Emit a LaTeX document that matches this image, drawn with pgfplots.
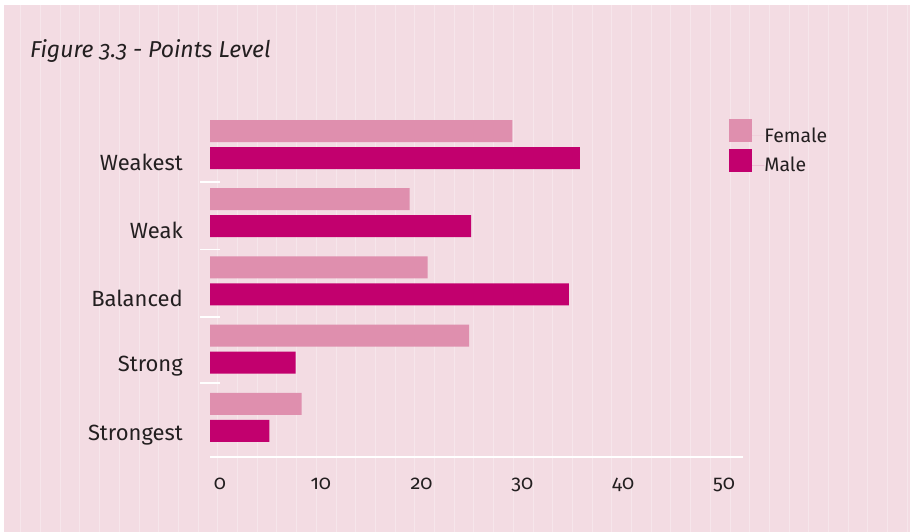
\documentclass[border=0pt]{standalone}
\usepackage{pgfplots}
\pgfplotsset{compat=1.18}
\usepackage{fontspec}
\setmainfont{Fira Sans}[Numbers=OldStyle]
\definecolor{bgpink}{RGB}{243,220,227}
\definecolor{fem}{RGB}{223,143,174}
\definecolor{mal}{RGB}{194,0,110}
\definecolor{txt}{RGB}{35,31,32}
\begin{document}
\begin{tikzpicture}[x=1pt,y=1pt]
\useasboundingbox (0,0) rectangle (910,532);
\fill[white] (0,0) rectangle (910,532);
\fill[bgpink] (4,0) rectangle (910,527);
\foreach \i in {0,...,45} {\draw[white,opacity=0.3,line width=0.8pt] ({20.7+19.7*\i},0) -- ({20.7+19.7*\i},527);}
\node[anchor=base west,inner sep=0pt,font=\fontsize{23}{26}\selectfont\itshape,text=txt] at (30,474) {Figure 3.3 - Points Level};
\begin{axis}[
  at={(210pt,75pt)}, anchor=south west,
  scale only axis, width=533pt, height=347pt,
  xmin=0, xmax=52.88, ymin=-0.582, ymax=4.506,
  xbar, bar width=22pt,
  axis x line*=bottom, axis y line*=left,
  x axis line style={white,line width=1.3pt,-},
  y axis line style={draw=none},
  xtick={0,10,20,30,40,50},
  xtick style={draw=none},
  /pgf/number format/assume math mode=true,
  xticklabel style={anchor=north,inner sep=0pt,yshift=-11pt,xshift=10pt,font=\fontsize{20}{24}\selectfont,text=txt},
  ytick={0.5,1.47,2.46,3.45},
  yticklabels={},
  ytick style={draw=white,line width=1.8pt},
  major tick length=19pt, tick align=center,
  extra y ticks={0,1,2,3,4},
  extra y tick labels={Strongest,Strong,Balanced,Weak,Weakest},
  extra y tick style={major tick length=0pt, ytick style={draw=none}},
  yticklabel style={anchor=east,inner sep=0pt,xshift=-27pt,yshift=-17.5pt,font=\fontsize{22}{26}\selectfont,text=txt},
  legend style={at={(0.974,0.974)},anchor=north west,draw=none,fill=none,inner sep=0pt,
    font=\fontsize{19.5}{22}\selectfont,text=txt,row sep=5pt,column sep=0pt,
    nodes={inner sep=0pt}},
  legend cell align=left,
  legend image code/.code={\fill[#1] (0pt,-6.5pt) rectangle (23pt,16.5pt); \path (0pt,0pt) -- (35pt,0pt);},
]
\addplot[fill=fem,draw=none,bar shift=13.5pt] coordinates {(9.1,0) (25.7,1) (21.6,2) (19.8,3) (30.0,4)};
\addplot[fill=mal,draw=none,bar shift=-13.5pt] coordinates {(5.9,0) (8.5,1) (35.6,2) (25.9,3) (36.7,4)};
\legend{Female,Male}
\end{axis}
\end{tikzpicture}
\end{document}
